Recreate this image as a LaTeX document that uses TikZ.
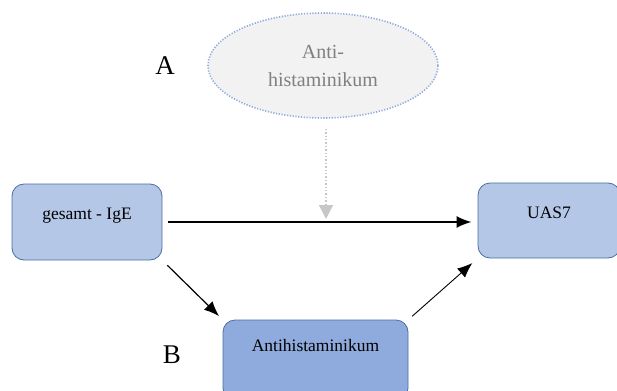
\documentclass[tikz,border=0pt]{standalone}
\usepackage{fontspec}
\setmainfont{Liberation Serif}
\usepackage{tikz}
\usetikzlibrary{arrows.meta,shapes.geometric}
\definecolor{boxhell}{HTML}{B4C7E7}
\definecolor{boxdunkel}{HTML}{8FAADC}
\definecolor{boxrand}{HTML}{4A6FA5}
\definecolor{ellfill}{HTML}{F2F2F2}
\definecolor{ellrand}{HTML}{8FAADC}
\tikzset{
	kasten/.style={draw=boxrand, line width=0.8pt, rounded corners=12pt, inner sep=0pt, font=\fontsize{17.5}{20}\selectfont},
	pfeil/.style={-{Latex[length=15pt,width=12pt]}, line width=1.2pt},
	buchstabe/.style={font=\fontsize{27}{30}\selectfont}
}

\begin{document}
\begin{tikzpicture}[x=1pt, y=-1pt]
		%%%%% START %%%%%
		
		\useasboundingbox (0, 0) rectangle (617, 390);
		
		\node[buchstabe] (A) at (165, 66) {A};
		\node[buchstabe] (B) at (172, 355) {B};
		
		\node[ellipse, draw=ellrand, line width=1.6pt, dash pattern=on 1.2pt off 1.6pt, fill=ellfill, minimum width=230pt, minimum height=105pt,
			text=black!50, align=center, font=\fontsize{20}{28}\selectfont] (anti) at (323, 65.5) {Anti-\\histaminikum};
		
		\node[kasten, fill=boxhell, minimum width=150pt, text height=35pt, text depth=41pt] (ige) at (87, 222) {gesamt - IgE};
		\node[kasten, fill=boxhell, minimum width=142pt, text height=35pt, text depth=40pt] (uas) at (549, 220.5) {UAS7};
		\node[kasten, fill=boxdunkel, minimum width=185pt, text height=31pt, text depth=49pt] (ah) at (315.5, 360) {Antihistaminikum};
		
		\coordinate (ziel) at (326, 219);
		\draw[dotted, line width=1.4pt, color=black!22, shorten <=10pt, -{Triangle[length=14pt,width=14pt]}] (anti.south -| ziel) -- (ziel);
		
		\draw[pfeil, line width=2pt, shorten <=6pt, shorten >=6pt] (ige.east) -- (uas.west |- ige.east);
		\draw[pfeil, shorten <=7pt, shorten >=5pt] (ige.south east) -- (ah.north west);
		\draw[pfeil, line width=0.9pt, shorten <=5pt, shorten >=7pt] (ah.north east) -- (uas.south west);
		
		%%%%% END %%%%%
	\end{tikzpicture}
\end{document}
